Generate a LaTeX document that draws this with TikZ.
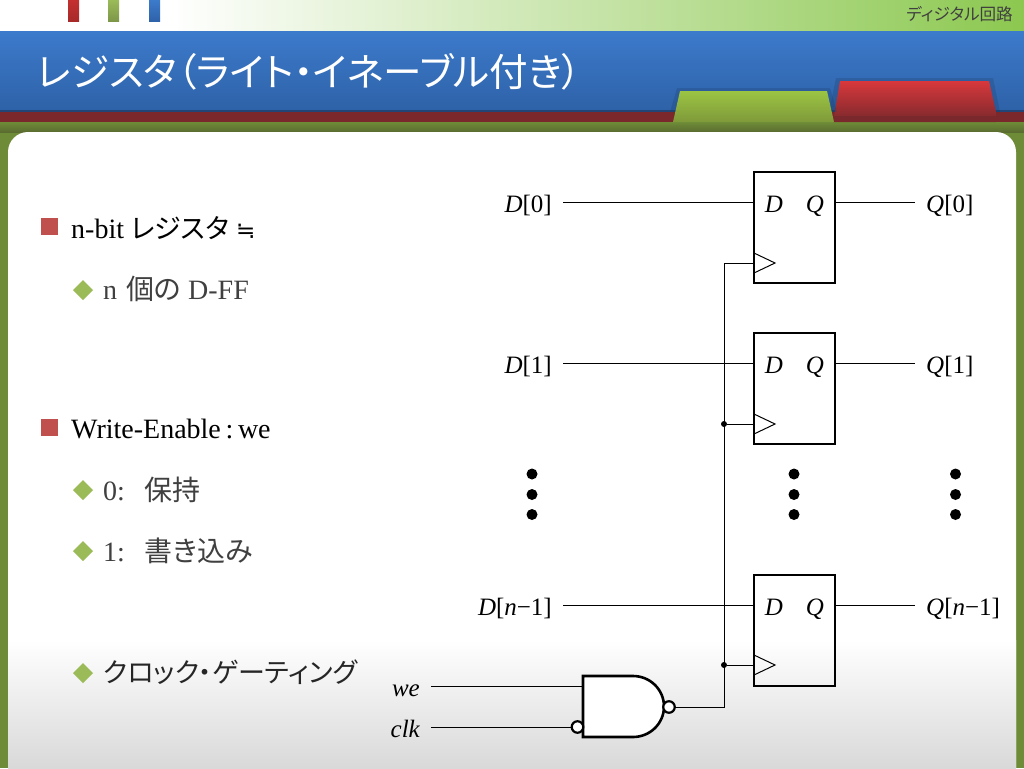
\documentclass[tikz,border=0pt]{standalone}
\usepackage{fontspec}
\setmainfont{Liberation Serif}
\newfontfamily\cjk[RawFeature=+palt]{Noto Sans CJK JP}
\newfontfamily\symf{DejaVu Sans}
\definecolor{hdrblue}{RGB}{60,122,203}
\definecolor{hdrblued}{RGB}{46,98,168}
\definecolor{stripred}{RGB}{122,40,44}
\definecolor{framegreen}{RGB}{110,140,55}
\definecolor{framegreend}{RGB}{90,108,48}
\definecolor{topgreen}{RGB}{140,200,80}
\definecolor{bulred}{RGB}{192,80,77}
\definecolor{bulgreen}{RGB}{155,187,89}
\definecolor{subgray}{RGB}{64,64,64}
\definecolor{barred}{RGB}{196,48,48}
\definecolor{tabred}{RGB}{216,56,60}
\definecolor{tabgreen}{RGB}{155,196,67}
\definecolor{tabgreend}{RGB}{127,154,58}
\newcommand{\fsz}[1]{\fontsize{#1}{#1}\selectfont}
\begin{document}
\begin{tikzpicture}[x=1pt,y=-1pt,
  ffbox/.style={draw,line width=2pt,minimum width=81pt,minimum height=111pt,inner sep=0pt,outer sep=0pt},
  sig/.style={font=\fsz{25},inner xsep=11pt,inner ysep=0pt,text height=22pt,text depth=2pt},
  pin/.style={font=\fsz{25}\itshape,inner sep=0pt,anchor=base},
  wire/.style={line width=1pt},
  bubble/.style={circle,draw,fill=white,line width=2.2pt,minimum size=11.5pt,inner sep=0pt,outer sep=0pt},
  joint/.style={circle,fill=black,minimum size=6pt,inner sep=0pt,outer sep=0pt},
  bigdot/.style={circle,fill=black,minimum size=11pt,inner sep=0pt},
  item/.style={anchor=base west,font=\fsz{28},inner sep=0pt},
  subitem/.style={item,text=subgray}]
\useasboundingbox (0,0) rectangle (1024,768);
% slide background
\fill[white] (0,0) rectangle (1024,32);
\shade[left color=white,right color=topgreen] (170,0) rectangle (1024,32);
\shade[top color=barred,bottom color=barred!85!black] (68,0) rectangle (79,22);
\shade[top color=bulgreen,bottom color=bulgreen!80!black] (108,0) rectangle (119,22);
\shade[top color=hdrblue,bottom color=hdrblued] (149,0) rectangle (160,22);
\shade[top color=hdrblue,bottom color=hdrblued] (0,32) rectangle (1024,110);
\fill[hdrblued!70!black] (0,110) rectangle (1024,112);
\fill[stripred] (0,112) rectangle (1024,122);
\fill[framegreen] (0,122) rectangle (1024,768);
\shade[top color=framegreen,bottom color=framegreend] (0,122) rectangle (1024,132);
\fill[hdrblued!60!black,opacity=.25] (829,112) -- (836,78) -- (993,78) -- (1000,112) -- cycle;
\shade[top color=tabred,bottom color=stripred] (833,122) -- (840,81) -- (989,81) -- (996,112) -- (996,122) -- cycle;
\fill[stripred] (833,116) rectangle (1024,122);
\fill[hdrblued!60!black,opacity=.25] (670,112) -- (677,88) -- (830,88) -- (837,112) -- cycle;
\shade[top color=tabgreen,bottom color=tabgreend] (673,122) -- (680,91) -- (827,91) -- (834,122) -- cycle;
\fill[white,rounded corners=20pt] (8,132) rectangle (1016,790);
\shade[top color=white,bottom color=black!15] (8,640) rectangle (1016,768);
% header text
\node[anchor=base west,inner sep=0pt,text=white,font=\fsz{38.6}\cjk] (title) at (37,86) {レジスタ（ライト・イネーブル付き）};
\node[anchor=base east,inner sep=0pt,text=subgray,font=\fsz{16.6}\cjk] (chapter) at (1013,21) {ディジタル回路};
% left column
\fill[bulred] (41,218) rectangle (58,235);
\node[item] (nbit) at (71,238) {n-bit {\cjk\fsz{27}レジスタ} {\symf\fsz{23}≒}};
\fill[bulgreen] (83,280) -- (93,290) -- (83,300) -- (73,290) -- cycle;
\node[subitem] (ndff) at (103,299) {n\hspace{2pt} {\cjk 個の} D-FF};
\fill[bulred] (41,419) rectangle (58,436);
\node[item] (wen) at (71,438) {Write-Enable\,:\,we};
\fill[bulgreen] (83,480) -- (93,490) -- (83,500) -- (73,490) -- cycle;
\node[subitem] (hold) at (103,500) {0:\hspace{20pt}{\cjk 保持}};
\fill[bulgreen] (83,541) -- (93,551) -- (83,561) -- (73,551) -- cycle;
\node[subitem] (load) at (103,561) {1:\hspace{20pt}{\cjk 書き込み}};
\fill[bulgreen] (83,663) -- (93,673) -- (83,683) -- (73,673) -- cycle;
\node[subitem] (cgate) at (103,682) {\cjk\fsz{27}\textcolor{black!85}{クロック・ゲーティング}};
% flip-flops
\node[ffbox] (ff0) at (794.5,227.5) {};
\node[ffbox] (ff1) at (794.5,388.5) {};
\node[ffbox] (ff2) at (794.5,630.5) {};
\node[pin] (ff0d) at (774,212) {D};
\node[pin] (ff0q) at (815,212) {Q};
\node[pin] (ff1d) at (774,373) {D};
\node[pin] (ff1q) at (815,373) {Q};
\node[pin] (ff2d) at (774,615) {D};
\node[pin] (ff2q) at (815,615) {Q};
\coordinate (clk0) at (754,263);
\coordinate (clk1) at (754,424);
\coordinate (clk2) at (754,665);
\draw[wire] (754,253) -- (775,263) -- (754,273);
\draw[wire] (754,414) -- (775,424) -- (754,434);
\draw[wire] (754,655) -- (775,665) -- (754,675);
% inputs and outputs
\node[sig,anchor=east] (d0) at (563,202) {\textit{D}[0]};
\node[sig,anchor=east] (d1) at (563,363.5) {\textit{D}[1]};
\node[sig,anchor=east] (d2) at (563,605.5) {\textit{D}[\textit{n}−1]};
\node[sig,anchor=west] (q0) at (915,202) {\textit{Q}[0]};
\node[sig,anchor=west] (q1) at (915,363.5) {\textit{Q}[1]};
\node[sig,anchor=west] (q2) at (915,605.5) {\textit{Q}[\textit{n}−1]};
\draw[wire] (d0.east) -- (d0.east -| ff0.west);
\draw[wire] (d1.east) -- (d1.east -| ff1.west);
\draw[wire] (d2.east) -- (d2.east -| ff2.west);
\draw[wire] (ff0.east |- q0.west) -- (q0.west);
\draw[wire] (ff1.east |- q1.west) -- (q1.west);
\draw[wire] (ff2.east |- q2.west) -- (q2.west);
% nand gate
\draw[fill=white,line width=2.6pt] (583,676) -- (633,676) arc[start angle=90,end angle=-90,x radius=31pt,y radius=30.5pt] -- (583,737) -- cycle;
\node[bubble] (nandout) at (669,707) {};
\node[bubble] (clkin) at (577.5,727) {};
\node[sig,anchor=east,font=\fsz{25}\itshape] (we) at (431,686) {we};
\node[sig,anchor=east,font=\fsz{25}\itshape] (clk) at (431,727) {clk};
\coordinate (wein) at (583,686);
\coordinate (bus) at (724,707);
\draw[wire] (we.east) -- (wein);
\draw[wire] (clk.east) -- (clkin);
\draw[wire] (nandout) -- (bus) |- (clk0);
\node[joint] (j1) at (724,424) {};
\node[joint] (j2) at (724,665) {};
\draw[wire] (j1) -- (clk1);
\draw[wire] (j2) -- (clk2);
% ellipsis dots
\node[bigdot] (e1) at (532,474) {};
\node[bigdot] (e2) at (532,494.5) {};
\node[bigdot] (e3) at (532,514.5) {};
\node[bigdot] (e4) at (794,474) {};
\node[bigdot] (e5) at (794,494.5) {};
\node[bigdot] (e6) at (794,514.5) {};
\node[bigdot] (e7) at (955.5,474) {};
\node[bigdot] (e8) at (955.5,494.5) {};
\node[bigdot] (e9) at (955.5,514.5) {};
\end{tikzpicture}
\end{document}
